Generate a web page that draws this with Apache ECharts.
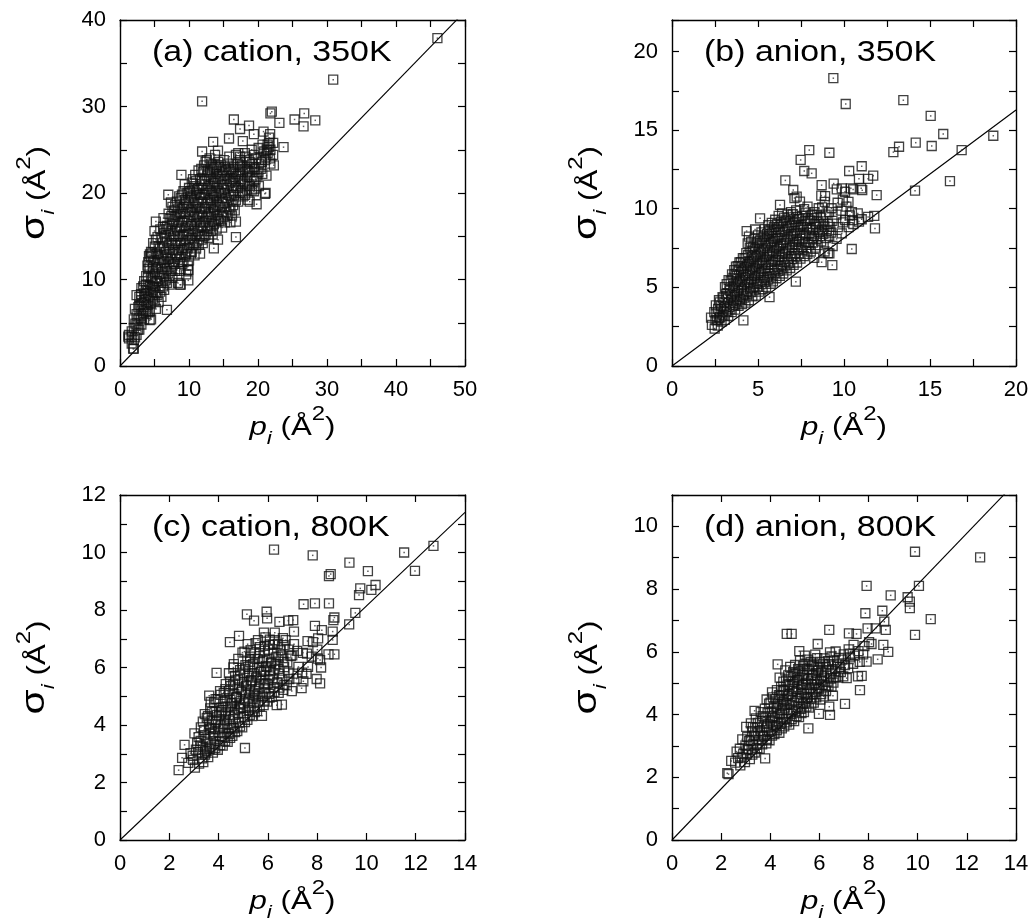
<!DOCTYPE html>
<html>
<head>
<meta charset="utf-8">
<script src="https://cdn.jsdelivr.net/npm/echarts/dist/echarts.min.js"></script>
<style>
  html, body { margin: 0; padding: 0; background: #fff; }
  #chart { width: 1034px; height: 921px; }
</style>
</head>
<body>
<div id="chart"></div>
<script>
// ---- data: [p_i, sigma_i] in A^2 ----
const cation350 = [
  [1.3,3.2],[1.3,3.6],[1.7,2.6],[1.7,3.4],[1.7,4.0],[2.0,2.0],[2.0,3.0],[2.0,4.4],[2.0,5.4],
  [2.4,3.6],[2.4,4.8],[2.4,6.0],[2.4,8.2],[2.8,4.2],[2.8,5.6],[2.8,7.0],[2.8,8.0],
  [3.1,4.8],[3.1,6.4],[3.1,7.6],[3.1,9.0],[3.5,5.4],[3.5,6.8],[3.5,8.4],[3.5,9.8],[3.5,7.6],
  [3.8,6.0],[3.8,7.4],[3.8,8.8],[3.8,10.4],[4.1,6.2],[4.1,8.0],[4.1,9.4],[4.1,11.2],[4.1,12.0],
  [4.5,5.4],[4.5,7.2],[4.5,8.6],[4.5,10.2],[4.5,12.6],[4.5,13.2],[4.8,7.8],[4.8,9.2],[4.8,10.8],[4.8,12.0],[4.8,14.2],
  [5.2,6.6],[5.2,8.4],[5.2,9.8],[5.2,11.4],[5.2,13.0],[5.2,14.6],[5.2,16.7],[5.0,15.6],
  [5.6,7.4],[5.6,9.0],[5.6,10.6],[5.6,12.2],[5.6,13.8],
  [6.0,8.0],[6.0,9.6],[6.0,11.2],[6.0,12.8],[6.0,14.8],[6.3,17.1],
  [6.4,8.8],[6.4,10.4],[6.4,12.0],[6.4,13.6],[6.4,15.4],
  [6.8,6.5],[6.8,9.6],[6.8,11.2],[6.8,12.8],[6.8,14.4],[6.8,16.2],
  [7.2,9.4],[7.2,10.4],[7.2,12.0],[7.2,13.6],[7.2,15.2],[7.2,17.0],[7.0,19.8],
  [7.6,10.2],[7.6,11.6],[7.6,13.0],[7.6,14.6],[7.6,16.4],[7.6,18.4],
  [8.0,11.0],[8.0,12.4],[8.0,14.0],[8.0,15.6],[8.0,17.2],[8.0,18.6],
  [8.4,9.6],[8.4,12.0],[8.4,13.4],[8.4,15.0],[8.4,16.6],[8.4,18.2],
  [8.8,9.4],[8.8,11.2],[8.8,12.6],[8.8,14.2],[8.8,16.0],[8.8,17.6],[8.8,19.4],[8.9,22.1],
  [9.2,12.0],[9.2,13.6],[9.2,15.2],[9.2,16.8],[9.2,18.4],[9.2,20.2],
  [9.6,10.6],[9.6,13.0],[9.6,14.6],[9.6,16.2],[9.6,17.8],[9.6,19.0],
  [9.9,9.9],[9.9,11.1],[10.0,12.2],[10.0,14.0],[10.0,15.6],[10.0,17.2],[10.0,18.8],[10.0,20.6],
  [10.4,13.2],[10.4,14.8],[10.4,16.4],[10.4,18.0],[10.4,19.6],[10.4,21.2],
  [10.8,12.8],[10.8,14.2],[10.8,15.8],[10.8,17.4],[10.8,19.2],[10.8,20.8],[10.9,22.1],
  [11.2,14.4],[11.2,16.0],[11.2,17.6],[11.2,19.0],[11.2,20.4],
  [11.6,13.0],[11.6,15.0],[11.6,16.6],[11.6,18.2],[11.6,19.8],[11.6,21.6],
  [11.9,24.8],[11.9,30.6],
  [12.0,14.2],[12.0,16.0],[12.0,17.4],[12.0,19.0],[12.0,20.6],[12.0,22.4],
  [12.4,15.2],[12.4,16.8],[12.4,18.4],[12.4,20.0],[12.4,21.6],[12.4,23.6],
  [12.8,14.8],[12.8,16.2],[12.8,17.8],[12.8,19.4],[12.8,21.0],[12.8,22.6],
  [13.2,15.6],[13.2,17.2],[13.2,18.8],[13.2,20.2],[13.2,21.8],[13.2,23.4],
  [13.5,25.9],[13.6,13.6],[13.6,16.4],[13.6,18.0],[13.6,19.6],[13.6,21.2],[13.6,22.8],
  [14.0,15.8],[14.0,17.4],[14.0,19.0],[14.0,20.6],[14.0,22.2],[14.0,23.2],[14.2,14.6],[14.2,24.9],
  [14.4,16.8],[14.4,18.4],[14.4,20.0],[14.4,21.6],[14.4,23.0],
  [14.8,16.0],[14.8,17.8],[14.8,19.4],[14.8,21.0],[14.8,22.4],
  [15.2,16.6],[15.2,18.4],[15.2,20.0],[15.2,21.6],[15.2,23.0],
  [15.6,17.4],[15.6,19.0],[15.6,20.6],[15.6,22.0],[15.6,23.4],[15.8,26.3],
  [16.0,16.6],[16.0,18.0],[16.0,19.6],[16.0,21.2],[16.0,22.6],
  [16.4,18.6],[16.4,20.2],[16.4,21.6],[16.4,22.8],[16.5,28.5],
  [16.8,14.9],[16.8,16.7],[16.8,19.2],[16.8,20.8],[16.8,22.2],[16.8,24.4],
  [17.4,20.0],[17.4,21.4],[17.4,22.6],[17.4,23.8],[17.4,27.4],[17.4,24.2],[17.4,23.0],
  [17.8,19.6],[17.8,21.0],[17.8,22.4],[17.8,26.0],[18.2,24.2],
  [18.4,20.4],[18.4,21.8],[18.4,23.0],[18.6,19.2],[18.7,27.8],
  [18.8,19.0],[18.8,20.8],[18.8,22.4],[18.8,23.6],
  [19.4,20.2],[19.4,21.4],[19.4,23.0],[19.4,24.4],[19.4,26.8],[19.6,20.5],
  [19.8,18.7],[19.8,22.0],[20.4,22.8],[20.4,24.0],[20.8,27.1],[20.9,24.8],
  [21.0,19.9],[21.0,23.8],[21.1,20.0],[21.4,24.6],[21.4,25.6],[21.6,26.4],[21.6,25.3],
  [21.8,23.4],[21.8,25.0],[21.8,29.2],[22.0,29.4],[22.2,25.8],[22.2,24.4],[22.3,23.2],
  [23.1,28.1],[23.7,25.3],[25.3,28.5],[26.6,27.7],[26.7,29.2],[28.3,28.4],[30.9,33.1],[46.0,37.9],
  [1.2,3.4],[1.9,2.0],[4.2,12.7],[4.3,5.3],[8.7,9.4],[9.9,11.1],
  [2.18,3.3],[2.22,4.9],[2.16,6.6],[2.63,4.2],[2.57,5.4],[2.66,6.8],
  [3.02,5.5],[2.96,7.0],[3.05,8.3],[3.32,6.1],[3.27,7.2],[3.36,9.2],
  [3.72,6.6],[3.66,8.1],[3.75,9.4],[4.03,7.1],[3.97,8.7],[4.06,10.3],[3.98,11.6],
  [4.33,6.3],[4.27,7.9],[4.36,9.3],[4.29,11.4],[4.34,12.9],
  [4.73,8.5],[4.67,10.0],[4.76,11.4],[4.69,13.1],
  [5.03,7.5],[4.97,9.1],[5.06,10.6],[4.99,12.2],[5.04,13.8],
  [5.43,8.2],[5.37,9.8],[5.46,11.4],[5.39,13.0],[5.44,14.9],
  [5.83,8.6],[5.77,10.2],[5.86,11.9],[5.79,13.6],[5.84,15.8],
  [6.23,9.2],[6.17,10.8],[6.26,12.4],[6.19,14.2],[6.24,16.1],
  [6.63,10.0],[6.57,11.6],[6.66,13.2],[6.59,14.9],[6.64,15.8],
  [7.03,10.8],[6.97,12.4],[7.06,14.0],[6.99,15.8],[7.04,17.6],
  [7.43,11.0],[7.37,12.4],[7.46,14.2],[7.39,15.6],[7.44,17.3],[7.38,18.9],
  [7.83,11.8],[7.77,13.4],[7.86,15.0],[7.79,16.8],[7.84,18.0],
  [8.23,12.8],[8.17,14.2],[8.26,15.8],[8.19,17.4],[8.24,19.0],
  [8.63,11.0],[8.57,13.0],[8.66,14.6],[8.59,16.2],[8.64,17.8],[8.58,19.6],
  [9.03,11.8],[8.97,13.4],[9.06,15.0],[8.99,16.6],[9.04,18.2],[8.98,19.8],
  [9.43,12.8],[9.37,14.4],[9.46,16.0],[9.39,17.6],[9.44,19.2],[9.38,21.0],
  [9.83,11.6],[9.77,13.6],[9.86,15.2],[9.79,16.8],[9.84,18.4],[9.78,20.0],
  [10.23,13.0],[10.17,14.6],[10.26,16.2],[10.19,17.8],[10.24,19.4],[10.18,20.2],
  [10.63,14.0],[10.57,15.6],[10.66,17.2],[10.59,18.8],[10.64,20.4],[10.58,21.6],
  [11.03,13.6],[10.97,15.2],[11.06,16.8],[10.99,18.4],[11.04,20.0],[10.98,21.4],
  [11.43,14.0],[11.37,15.6],[11.46,17.2],[11.39,18.8],[11.44,20.6],[11.38,22.6],
  [11.83,14.6],[11.77,16.2],[11.86,17.8],[11.79,19.4],[11.84,21.0],[11.78,22.8],
  [12.23,15.0],[12.17,16.6],[12.26,18.2],[12.19,19.8],[12.24,21.4],[12.18,23.2],
  [12.63,15.6],[12.57,17.2],[12.66,18.8],[12.59,20.4],[12.64,22.0],[12.58,23.8],
  [13.03,16.0],[12.97,17.6],[13.06,19.2],[12.99,20.8],[13.04,22.4],[12.98,24.0],
  [13.43,15.2],[13.37,16.8],[13.46,18.4],[13.39,20.0],[13.44,21.6],[13.38,23.2],
  [13.83,16.6],[13.77,18.2],[13.86,19.8],[13.79,21.4],[13.84,23.0],[13.78,24.4],
  [14.23,17.0],[14.17,18.6],[14.26,20.2],[14.19,21.8],[14.24,23.6],
  [14.63,16.8],[14.57,18.4],[14.66,20.0],[14.59,21.6],[14.64,23.2],
  [15.03,17.2],[14.97,18.8],[15.06,20.4],[14.99,22.0],[15.04,23.8],
  [15.43,17.8],[15.37,19.4],[15.46,21.0],[15.39,22.6],
  [15.83,18.2],[15.77,19.8],[15.86,21.4],[15.79,22.8],[15.84,24.2],
  [16.23,17.4],[16.17,19.2],[16.26,20.8],[16.19,22.4],
  [16.63,18.0],[16.57,19.8],[16.66,21.4],[16.59,23.0],
  [17.13,19.0],[17.07,20.6],[17.16,22.0],[17.09,23.4],[17.14,24.6],
  [17.63,20.2],[17.57,21.6],[17.66,23.2],
  [18.13,19.8],[18.07,21.2],[18.16,22.8],[18.09,24.6],
  [18.63,21.0],[18.57,22.6],[18.66,23.8],
  [19.13,20.4],[19.07,21.8],[19.16,23.4],[19.09,25.0],
  [19.63,21.6],[19.57,22.8],[19.66,24.0],
  [20.13,20.8],[20.07,22.4],[20.16,23.4],[20.09,25.2],
  [20.63,22.2],[20.57,23.6],[20.66,25.6],
  [21.23,22.0],[21.17,24.2],[21.26,25.0],
  [21.73,24.0],[21.67,25.8],[21.76,26.8]
];

const anion350 = [
  [2.32,2.62],[2.27,3.08],[2.48,2.38],[2.53,2.93],[2.46,3.42],[2.55,3.86],[2.66,2.57],[2.74,3.04],[2.68,3.63],[2.73,4.18],
  [2.88,2.83],[2.93,3.27],[2.86,3.84],[2.94,4.37],[3.07,2.93],[3.13,3.46],[3.05,4.05],[3.14,4.58],[3.08,5.02],
  [3.27,3.18],[3.34,3.74],[3.26,4.28],[3.35,4.93],[3.29,5.46],[3.47,3.43],[3.54,3.88],[3.46,4.53],[3.55,5.08],[3.49,5.83],
  [3.67,3.58],[3.74,4.14],[3.66,4.68],[3.75,5.34],[3.69,5.86],[3.72,6.32],
  [3.87,3.82],[3.94,4.27],[3.86,4.93],[3.95,5.47],[3.89,6.12],[3.92,6.58],
  [4.15,2.9],[4.07,3.93],[4.14,4.48],[4.06,5.14],[4.13,5.68],[4.08,6.33],[4.12,6.86],
  [4.27,4.03],[4.34,4.68],[4.26,5.33],[4.33,5.87],[4.28,6.52],[4.32,7.18],[4.34,8.58],
  [4.47,4.18],[4.54,4.93],[4.46,5.48],[4.53,6.13],[4.48,6.68],[4.52,7.53],[4.47,8.22],
  [4.67,4.43],[4.74,4.98],[4.66,5.73],[4.73,6.27],[4.68,6.93],[4.72,7.58],
  [4.87,4.48],[4.94,5.23],[4.86,5.88],[4.93,6.53],[4.88,7.08],[4.92,7.83],[4.83,8.68],
  [5.07,4.73],[5.14,5.38],[5.06,6.03],[5.13,6.68],[5.08,7.33],[5.12,7.98],[5.12,9.39],
  [5.27,4.88],[5.34,5.63],[5.26,6.18],[5.33,6.93],[5.28,7.48],[5.32,8.23],
  [5.47,5.03],[5.54,5.68],[5.46,6.43],[5.53,7.08],[5.48,7.73],[5.52,8.38],
  [5.67,4.38],[5.74,5.23],[5.66,5.88],[5.73,6.63],[5.68,7.28],[5.72,7.93],[5.66,8.58],[5.63,8.65],
  [5.87,5.38],[5.94,6.13],[5.86,6.78],[5.93,7.53],[5.88,8.08],[5.92,8.83],
  [6.07,5.58],[6.14,6.33],[6.06,6.98],[6.13,7.63],[6.08,8.28],[6.12,9.03],
  [6.27,5.73],[6.34,6.38],[6.26,7.13],[6.33,7.78],[6.28,8.53],[6.32,9.18],[6.28,10.24],
  [6.47,5.88],[6.54,6.63],[6.46,7.28],[6.53,8.03],[6.48,8.68],[6.52,9.43],
  [6.67,6.08],[6.74,6.83],[6.66,7.48],[6.73,8.23],[6.68,8.88],[6.72,9.63],[6.59,11.8],
  [6.87,6.23],[6.94,6.98],[6.86,7.73],[6.93,8.38],[6.88,9.13],[6.92,9.78],
  [7.2,5.36],[7.07,6.43],[7.14,7.18],[7.06,7.93],[7.13,8.58],[7.08,9.33],[7.05,11.19],[7.12,10.68],
  [7.27,6.58],[7.34,7.43],[7.26,8.08],[7.33,8.83],[7.28,9.48],[7.25,10.77],
  [7.47,6.83],[7.54,7.58],[7.46,8.33],[7.53,8.98],[7.44,10.45],[7.48,13.1],
  [7.67,6.98],[7.74,7.83],[7.66,8.48],[7.73,9.23],[7.68,9.98],[7.69,12.4],
  [7.87,7.13],[7.94,7.88],[7.86,8.73],[7.93,9.38],[7.88,10.13],[7.98,13.73],
  [8.07,7.28],[8.14,8.13],[8.06,8.78],[8.13,9.63],[8.12,12.25],
  [8.27,6.88],[8.34,7.53],[8.26,8.28],[8.33,9.03],[8.28,9.78],
  [8.47,7.68],[8.54,8.53],[8.46,9.18],[8.53,10.03],
  [8.7,6.6],[8.67,7.93],[8.74,8.68],[8.66,9.43],[8.73,10.08],[8.68,10.83],[8.7,11.5],
  [8.87,7.28],[8.94,8.13],[8.86,8.88],[8.93,9.63],[8.88,10.43],[8.9,10.8],
  [9.07,7.18],[9.14,8.28],[9.06,9.03],[9.13,9.78],[9.15,13.56],[9.15,7.16],
  [9.32,6.42],[9.34,7.63],[9.26,8.48],[9.33,9.23],[9.28,10.03],[9.4,11.6],[9.38,18.3],
  [9.57,8.08],[9.64,8.83],[9.56,9.63],[9.63,10.38],[9.58,11.23],
  [9.87,8.43],[9.94,9.13],[9.86,9.88],[9.93,10.58],[9.87,11.3],
  [10.07,9.28],[10.14,10.13],[10.06,11.08],[10.1,16.66],
  [10.27,8.83],[10.34,9.58],[10.26,10.43],[10.4,11.3],[10.3,12.4],
  [10.45,7.44],[10.54,9.03],[10.46,9.78],[10.5,9.28],[10.53,11.23],
  [10.8,9.7],[10.87,9.18],[11.0,11.3],[10.87,11.9],
  [11.03,9.33],[11.06,11.18],[11.03,12.7],[11.4,9.48],[11.4,11.9],
  [11.8,8.75],[11.76,9.54],[11.7,12.1],[11.9,10.87],
  [12.87,13.6],[13.2,13.94],[13.45,16.9],[14.13,11.15],[14.17,14.2],[15.04,15.9],[15.1,13.99],
  [15.77,14.75],[16.16,11.76],[16.84,13.73],[18.68,14.64],
  [2.62,2.9],[2.58,3.35],[2.8,3.1],[2.83,3.6],[2.78,4.05],
  [3.0,3.2],[3.03,3.75],[2.98,4.3],[3.2,3.45],[3.17,4.0],[3.22,4.6],[3.18,5.2],
  [3.4,3.6],[3.43,4.2],[3.38,4.8],[3.41,5.4],[3.6,3.85],[3.58,4.4],[3.63,5.0],[3.57,5.6],[3.62,6.1],
  [3.8,4.05],[3.78,4.6],[3.83,5.2],[3.77,5.75],[3.82,6.35],
  [4.0,4.2],[4.03,4.8],[3.98,5.4],[4.02,6.0],[4.0,6.6],
  [4.2,4.35],[4.18,5.0],[4.23,5.6],[4.17,6.2],[4.22,6.85],
  [4.4,4.55],[4.38,5.2],[4.43,5.8],[4.37,6.4],[4.42,7.05],[4.4,7.8],
  [4.6,4.7],[4.58,5.35],[4.63,6.0],[4.57,6.6],[4.62,7.25],[4.6,7.9],
  [4.8,4.85],[4.78,5.55],[4.83,6.2],[4.77,6.8],[4.82,7.45],[4.8,8.1],
  [5.0,5.05],[4.98,5.7],[5.03,6.35],[4.97,7.0],[5.02,7.65],[5.0,8.3],
  [5.2,5.2],[5.18,5.9],[5.23,6.55],[5.17,7.2],[5.22,7.85],[5.2,8.5],
  [5.4,5.35],[5.38,6.05],[5.43,6.75],[5.37,7.4],[5.42,8.05],[5.4,8.7],
  [5.6,5.5],[5.58,6.25],[5.63,6.95],[5.57,7.6],[5.62,8.25],[5.6,8.95],
  [5.8,5.7],[5.78,6.45],[5.83,7.15],[5.77,7.8],[5.82,8.45],[5.8,9.1],
  [6.0,5.9],[5.98,6.65],[6.03,7.3],[5.97,7.95],[6.02,8.65],[6.0,9.3],
  [6.2,6.05],[6.18,6.75],[6.23,7.45],[6.17,8.15],[6.22,8.85],[6.2,9.55],
  [6.4,6.2],[6.38,6.95],[6.43,7.65],[6.37,8.35],[6.42,9.05],[6.4,9.7],
  [6.6,6.4],[6.58,7.15],[6.63,7.85],[6.57,8.55],[6.62,9.25],
  [6.8,6.55],[6.78,7.35],[6.83,8.05],[6.77,8.75],[6.82,9.45],
  [7.0,6.8],[6.98,7.55],[7.03,8.25],[6.97,8.95],[7.02,9.65],
  [7.2,6.95],[7.18,7.7],[7.23,8.45],[7.17,9.15],[7.22,9.9],
  [7.4,7.15],[7.38,7.9],[7.43,8.65],[7.37,9.35],
  [7.6,7.35],[7.58,8.1],[7.63,8.85],[7.57,9.55],
  [7.8,7.5],[7.78,8.3],[7.83,9.05],[7.77,9.75],
  [8.0,7.7],[7.98,8.45],[8.03,9.25],[8.2,7.85],[8.18,8.65],[8.23,9.4],
  [8.4,8.05],[8.38,8.85],[8.43,9.6],[8.6,8.25],[8.58,9.0],[8.8,8.4],[8.78,9.2],[9.0,8.6],[9.2,8.85]
];

const cation800 = [
  [2.38,2.43],[2.52,2.86],[2.62,3.31],[2.77,2.68],[2.86,3.02],[2.95,2.93],
  [3.04,2.52],[2.97,2.79],[3.08,3.14],[3.02,3.71],[3.13,3.38],
  [3.21,2.66],[3.17,3.05],[3.26,3.29],[3.19,3.58],[3.28,3.92],[3.33,2.84],
  [3.38,2.71],[3.45,2.97],[3.36,3.24],[3.47,3.51],[3.41,3.83],[3.36,4.12],[3.44,4.38],[3.52,3.1],
  [3.58,2.88],[3.64,3.16],[3.55,3.42],[3.67,3.69],[3.61,4.03],[3.57,4.31],[3.66,4.58],[3.62,5.02],[3.71,3.9],
  [3.77,3.04],[3.84,3.33],[3.79,3.61],[3.86,3.87],[3.75,4.19],[3.88,4.47],[3.82,4.79],[3.92,5.81],[3.9,4.1],
  [3.97,3.14],[4.05,3.43],[3.99,3.72],[4.08,3.98],[4.02,4.32],[4.11,4.61],[3.96,4.9],[4.06,5.18],[4.13,3.6],
  [4.17,3.28],[4.24,3.57],[4.19,3.91],[4.27,4.18],[4.15,4.52],[4.25,4.83],[4.21,5.12],[4.29,5.42],[4.3,4.4],
  [4.37,3.41],[4.43,3.69],[4.35,4.03],[4.46,4.29],[4.39,4.62],[4.48,4.88],[4.41,5.19],[4.47,5.52],[4.46,6.88],[4.52,3.9],
  [4.56,3.62],[4.63,3.88],[4.58,4.21],[4.66,4.51],[4.55,4.77],[4.64,5.08],[4.59,5.41],[4.67,5.71],[4.62,6.12],[4.7,4.95],
  [4.76,3.79],[4.84,4.08],[4.78,4.42],[4.86,4.71],[4.74,4.98],[4.83,5.31],[4.79,5.58],[4.87,5.91],[4.83,7.1],[4.9,4.6],
  [4.96,3.92],[5.04,4.28],[4.98,4.61],[5.07,4.88],[4.95,5.22],[5.03,5.49],[5.01,5.82],[5.09,6.08],[4.97,6.52],[5.1,5.1],
  [5.07,3.2],[5.15,7.85],
  [5.17,4.18],[5.24,4.52],[5.19,4.79],[5.27,5.13],[5.14,5.38],[5.23,5.72],[5.2,6.02],[5.28,6.38],[5.18,6.81],[5.3,5.55],
  [5.36,4.31],[5.44,4.58],[5.38,4.92],[5.47,5.18],[5.35,5.52],[5.43,5.79],[5.39,6.12],[5.46,6.48],[5.44,7.63],[5.5,5.0],
  [5.56,4.48],[5.63,4.82],[5.58,5.08],[5.66,5.42],[5.55,5.68],[5.64,6.02],[5.59,6.29],[5.67,6.71],[5.7,5.85],
  [5.76,4.32],[5.83,4.69],[5.78,5.02],[5.86,5.28],[5.74,5.61],[5.84,5.88],[5.8,6.22],[5.87,6.58],[5.84,7.21],[5.9,5.45],
  [5.97,4.81],[6.04,5.08],[5.99,5.42],[6.07,5.69],[5.95,6.02],[6.03,6.28],[6.01,6.62],[6.08,6.97],[5.95,7.94],[5.97,7.71],[6.1,5.9],
  [6.16,4.98],[6.24,5.32],[6.19,5.58],[6.26,5.92],[6.14,6.18],[6.23,6.52],[6.21,6.79],[6.25,10.1],[6.28,7.21],
  [6.36,4.69],[6.44,5.12],[6.38,5.48],[6.46,5.79],[6.35,6.12],[6.43,6.38],[6.41,6.82],[6.47,7.59],
  [6.57,4.71],[6.63,5.22],[6.59,5.58],[6.66,6.01],[6.55,6.42],[6.64,6.78],[6.61,7.02],
  [6.77,5.38],[6.84,5.82],[6.79,6.18],[6.86,6.62],[6.83,7.63],
  [6.97,5.18],[7.04,5.79],[6.99,6.42],[7.06,6.81],[7.03,7.65],
  [7.17,5.61],[7.24,6.02],[7.19,6.58],[7.06,7.25],[7.45,8.2],
  [7.37,5.28],[7.44,5.52],[7.39,5.82],[7.42,6.51],
  [7.57,5.78],[7.63,6.02],[7.59,6.48],[7.61,6.92],
  [7.78,6.38],[7.83,6.88],[7.82,9.9],[7.91,8.23],[7.91,7.45],
  [7.98,5.6],[8.03,6.31],[8.01,6.62],[8.04,7.01],
  [8.12,5.45],[8.12,6.26],[8.16,6.0],[8.19,7.3],
  [8.46,6.46],[8.48,8.23],[8.48,9.18],[8.55,9.25],[8.63,6.96],[8.63,7.25],[8.66,7.65],[8.7,6.46],[8.7,7.74],
  [9.3,7.5],[9.31,9.65],[9.55,7.9],[9.7,8.52],[9.75,8.75],[10.06,9.35],[10.2,8.7],[10.37,8.87],
  [11.53,10.0],[11.97,9.36],[12.72,10.23],
  [3.27,3.45],[3.47,3.05],[3.43,3.65],[3.52,4.25],[3.67,3.25],[3.63,3.85],[3.72,4.45],[3.68,4.8],
  [3.87,3.2],[3.83,3.75],[3.92,4.35],[3.88,4.9],[4.07,3.3],[4.03,3.85],[4.12,4.45],[4.08,5.05],
  [4.27,3.45],[4.23,4.05],[4.32,4.65],[4.28,5.25],[4.47,3.55],[4.43,4.15],[4.52,4.75],[4.48,5.35],[4.42,5.8],
  [4.67,3.75],[4.63,4.35],[4.72,4.95],[4.68,5.55],[4.6,6.0],
  [4.87,3.95],[4.83,4.55],[4.92,5.15],[4.88,5.75],[4.8,6.3],
  [5.07,4.1],[5.03,4.75],[5.12,5.35],[5.08,5.95],[5.05,6.55],
  [5.27,4.35],[5.23,4.95],[5.32,5.55],[5.28,6.2],[5.3,6.6],
  [5.47,4.45],[5.43,5.05],[5.52,5.65],[5.48,6.3],[5.5,6.85],
  [5.67,4.65],[5.63,5.25],[5.72,5.85],[5.68,6.5],[5.6,6.95],
  [5.87,4.85],[5.83,5.45],[5.92,6.05],[5.88,6.75],[5.9,7.05],
  [6.07,4.95],[6.03,5.55],[6.12,6.15],[6.08,6.8],
  [6.27,5.15],[6.23,5.75],[6.32,6.35],[6.28,6.95],
  [6.47,5.3],[6.43,5.95],[6.52,6.6],[6.67,5.4],[6.63,6.2],[6.72,6.95],[6.87,5.6],[6.93,6.4]
];

const anion800 = [
  [2.3,2.1],[2.25,2.13],[2.41,2.52],[2.57,2.47],[2.63,2.82],[2.69,2.61],
  [2.78,2.38],[2.84,2.63],[2.76,2.91],[2.86,3.21],[2.9,2.75],
  [2.97,2.48],[3.04,2.72],[2.99,3.02],[3.06,3.28],[3.02,3.61],[3.1,2.9],
  [3.17,2.58],[3.24,2.88],[3.19,3.19],[3.26,3.47],[3.21,3.72],[3.3,3.05],
  [3.37,2.79],[3.44,3.03],[3.38,3.31],[3.46,3.58],[3.41,3.88],[3.36,4.12],[3.5,3.4],
  [3.57,2.91],[3.64,3.18],[3.59,3.48],[3.66,3.79],[3.61,4.08],[3.7,3.3],
  [3.79,2.6],[3.84,3.08],[3.76,3.32],[3.86,3.58],[3.81,3.91],[3.78,4.19],[3.85,4.48],[3.9,3.7],
  [3.97,3.18],[4.04,3.49],[3.99,3.81],[4.06,4.09],[4.01,4.38],[4.07,4.71],[4.1,3.9],
  [4.17,3.38],[4.24,3.62],[4.19,3.88],[4.26,4.21],[4.21,4.49],[4.27,4.78],[4.3,5.6],[4.3,4.05],
  [4.37,3.42],[4.43,3.71],[4.39,4.02],[4.46,4.28],[4.41,4.61],[4.44,4.88],[4.38,5.18],[4.5,4.4],
  [4.57,3.62],[4.63,3.88],[4.59,4.22],[4.66,4.48],[4.56,4.79],[4.64,5.08],[4.61,5.41],[4.7,4.6],
  [4.67,6.57],[4.87,6.57],
  [4.77,3.68],[4.84,4.02],[4.79,4.31],[4.86,4.58],[4.76,4.92],[4.83,5.19],[4.81,5.52],[4.9,4.75],
  [4.97,3.79],[5.04,4.11],[4.99,4.38],[5.07,4.72],[4.96,4.98],[5.03,5.31],[5.01,5.58],[5.1,5.1],
  [5.17,3.92],[5.24,4.18],[5.19,4.52],[5.26,4.79],[5.16,5.12],[5.23,5.38],[5.21,5.72],[5.18,6.02],[5.3,4.95],
  [5.37,4.08],[5.44,4.41],[5.39,4.68],[5.46,5.02],[5.36,5.28],[5.43,5.62],[5.41,5.88],[5.5,4.55],
  [5.55,3.56],
  [5.57,4.22],[5.63,4.49],[5.59,4.82],[5.66,5.08],[5.56,5.42],[5.64,5.68],[5.7,5.25],
  [5.77,4.38],[5.84,4.72],[5.79,4.98],[5.86,5.32],[5.76,5.58],[5.83,5.91],[5.9,5.1],
  [5.98,4.02],[6.04,4.48],[5.99,4.82],[6.07,5.08],[5.96,5.42],[6.03,5.68],[5.93,6.25],[6.1,5.25],
  [6.17,4.58],[6.24,4.92],[6.19,5.18],[6.26,5.52],[6.21,5.79],
  [6.4,4.25],[6.37,4.92],[6.44,5.28],[6.39,5.61],[6.43,5.98],[6.4,6.7],[6.43,3.99],
  [6.49,4.89],[6.55,4.6],
  [6.57,5.02],[6.64,5.38],[6.59,5.72],[6.66,6.01],
  [6.77,5.18],[6.84,5.52],[6.79,5.81],
  [6.97,5.22],[7.04,5.58],[6.99,5.92],[7.04,4.34],[7.11,5.16],
  [7.17,5.48],[7.24,5.82],[7.19,6.08],[7.2,6.59],[7.24,5.94],
  [7.37,5.62],[7.44,5.88],[7.39,6.22],[7.51,6.57],
  [7.57,5.22],[7.64,5.68],[7.59,6.02],[7.65,4.78],[7.72,5.23],
  [7.78,5.92],[7.83,6.18],[7.87,7.23],[7.92,8.1],[7.92,5.69],[7.96,6.75],
  [8.02,6.31],[8.12,6.25],[8.29,6.75],[8.37,5.76],[8.56,7.31],[8.6,6.22],[8.64,6.96],[8.7,6.7],[8.8,6.0],
  [8.9,7.8],[9.59,7.74],[9.68,7.6],[9.68,7.39],[9.89,6.54],[9.89,9.19],[10.05,8.1],[10.53,7.04],[12.54,9.01],
  [3.07,2.88],[3.13,3.15],[3.27,2.72],[3.33,3.33],[3.29,3.6],
  [3.47,2.93],[3.53,3.18],[3.49,3.73],[3.67,3.05],[3.73,3.62],[3.69,3.95],
  [3.87,3.22],[3.93,3.45],[3.89,4.05],[3.95,4.35],[4.07,3.33],[4.13,3.65],[4.09,3.95],[4.15,4.25],[4.11,4.55],
  [4.27,3.5],[4.33,3.75],[4.29,4.35],[4.35,4.62],[4.47,3.56],[4.53,3.85],[4.49,4.15],[4.55,4.45],[4.51,4.75],[4.53,5.05],
  [4.67,3.75],[4.73,4.05],[4.69,4.35],[4.75,4.65],[4.71,4.95],[4.73,5.25],
  [4.87,3.85],[4.93,4.15],[4.89,4.45],[4.95,4.82],[4.91,5.05],[4.93,5.35],
  [5.07,3.95],[5.13,4.25],[5.09,4.55],[5.15,4.88],[5.11,5.2],[5.13,5.45],
  [5.27,4.05],[5.33,4.35],[5.29,4.65],[5.35,4.95],[5.31,5.25],[5.33,5.55],
  [5.47,4.25],[5.53,4.55],[5.49,4.85],[5.55,5.15],[5.51,5.45],[5.52,5.75],
  [5.67,4.35],[5.73,4.65],[5.69,4.95],[5.75,5.25],[5.71,5.55],
  [5.87,4.55],[5.93,4.85],[5.89,5.15],[5.95,5.5],[5.91,5.8],
  [6.07,4.65],[6.13,4.95],[6.09,5.35],[6.15,5.6],[6.27,4.75],[6.33,5.05],[6.29,5.4],[6.35,5.7],
  [6.47,5.15],[6.53,5.45],[6.49,5.85],[6.67,5.2],[6.73,5.6],[6.87,5.35],[6.93,5.75]
];

// slope of the straight reference line in each panel
const fitSlope = [0.82, 0.814, 0.814, 0.815];
const panelLabels = ['(a) cation, 350K', '(b) anion, 350K', '(c) cation, 800K', '(d) anion, 800K'];
// axis ranges: [max, tick step, labelled every]
const xScales = [[50, 5, 10], [20, 2.5, 5], [14, 2, 2], [14, 2, 2]];
const yScales = [[40, 5, 10], [22, 2.5, 5], [12, 1, 2], [11, 1, 2]];

(function () {
  const FONT = '"Liberation Sans", Arial, Helvetica, sans-serif';
  const chart = echarts.init(document.getElementById('chart'), null, { renderer: 'canvas' });

  const boxes = [
    { left: 120, top: 20, width: 345, height: 346 },
    { left: 672, top: 20, width: 344, height: 346 },
    { left: 120, top: 495, width: 345, height: 345 },
    { left: 672, top: 495, width: 344, height: 345 }
  ];

  // gnuplot-like enhanced text: sub- and superscripts shifted with top padding
  const tok = (size, padTop, italic) => ({
    fontFamily: FONT, fontSize: size, fontStyle: italic ? 'italic' : 'normal', fill: '#000',
    lineHeight: 48, verticalAlign: 'top', padding: [padTop, 0, 0, 0]
  });
  const titleRich = { p: tok(26, 11, true), s: tok(34, 4, false), i: tok(19, 25, true), m: tok(26, 11, false), u: tok(20, 0, false) };
  const xTitle = '{p|p}{i|i}{m| (Å}{u|2}{m|)}';
  const yTitle = '{s|σ}{i|i}{m| (Å}{u|2}{m|)}';

  const makeAxis = (scale, position, labelled, gridIndex, isX) => {
    const [max, step, every] = scale;
    return {
      type: 'value', gridIndex, position, min: 0, max, interval: step,
      axisLine: { show: true, onZero: false, lineStyle: { color: '#000', width: 1.4 } },
      axisTick: { show: true, inside: true, length: 7, lineStyle: { color: '#000', width: 1.2 } },
      splitLine: { show: false },
      axisLabel: labelled ? {
        show: true, color: '#000', fontFamily: FONT, fontSize: 22, margin: isX ? 13 : 14,
        formatter: v => (Math.abs(v / every - Math.round(v / every)) < 1e-6 ? String(v) : '')
      } : { show: false }
    };
  };

  const data = [cation350, anion350, cation800, anion800];
  const grid = [], xAxis = [], yAxis = [], series = [], graphic = [];

  boxes.forEach((b, i) => {
    grid.push({ left: b.left, top: b.top, width: b.width, height: b.height, containLabel: false });
    xAxis.push(makeAxis(xScales[i], 'bottom', true, i, true));
    xAxis.push(makeAxis(xScales[i], 'top', false, i, true));
    yAxis.push(makeAxis(yScales[i], 'left', true, i, false));
    yAxis.push(makeAxis(yScales[i], 'right', false, i, false));

    const xMax = xScales[i][0];
    series.push({
      type: 'line', xAxisIndex: 2 * i, yAxisIndex: 2 * i,
      data: [[0, 0], [xMax, fitSlope[i] * xMax]],
      showSymbol: false, clip: true, silent: true,
      lineStyle: { color: '#000', width: 1.1 }, z: 1
    });
    series.push({
      type: 'scatter', xAxisIndex: 2 * i, yAxisIndex: 2 * i,
      data: data[i], symbol: 'rect', symbolSize: 9, silent: true,
      itemStyle: { color: 'rgba(0,0,0,0)', borderColor: '#111', borderWidth: 1.3 }, z: 2
    });
    series.push({
      type: 'scatter', xAxisIndex: 2 * i, yAxisIndex: 2 * i,
      data: data[i], symbol: 'rect', symbolSize: 1.5, silent: true,
      itemStyle: { color: '#333' }, z: 3
    });

    graphic.push({
      type: 'text', x: b.left + 32, y: b.top + 33, scaleX: 1.17,
      style: { text: panelLabels[i], font: '29px ' + FONT, fill: '#000', verticalAlign: 'middle', align: 'left' },
      z: 10
    });
    graphic.push({
      type: 'text', x: b.left + b.width / 2, y: b.top + b.height + 62, scaleX: 1.2,
      style: { text: xTitle, rich: titleRich, align: 'center', verticalAlign: 'middle' }
    });
    graphic.push({
      type: 'text', x: b.left - 82, y: b.top + b.height / 2, rotation: Math.PI / 2, scaleX: 1.2,
      style: { text: yTitle, rich: titleRich, align: 'center', verticalAlign: 'middle' }
    });
  });

  chart.setOption({
    animation: false,
    backgroundColor: '#fff',
    grid, xAxis, yAxis, series, graphic
  });
})();
</script>
</body>
</html>
